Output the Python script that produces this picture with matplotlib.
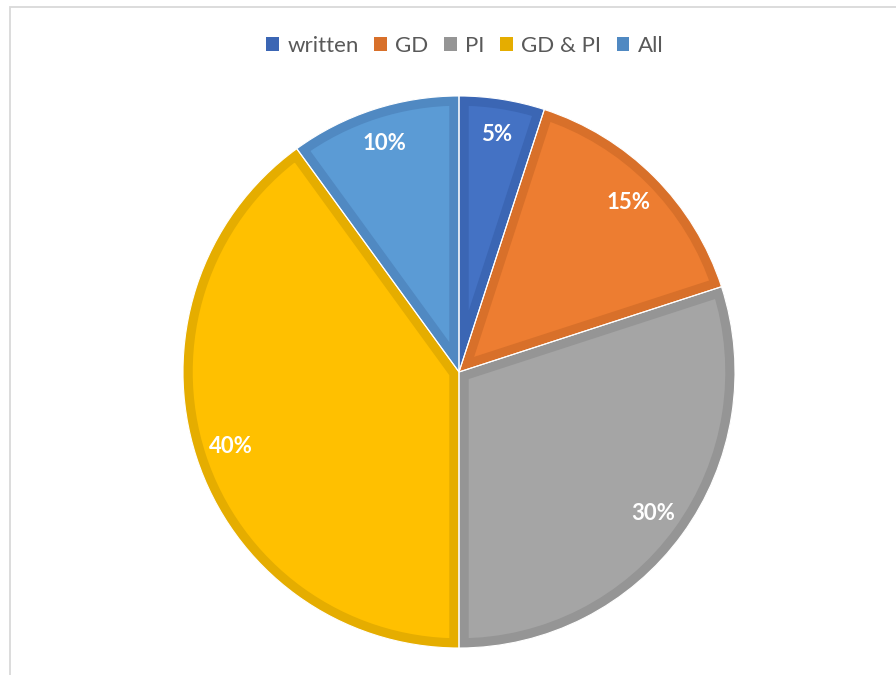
import matplotlib.pyplot as plt
from matplotlib.patches import Patch

plt.rcParams['font.family'] = ['Lato', 'DejaVu Sans']

labels = ['written', 'GD', 'PI', 'GD & PI', 'All']
shares = [5, 15, 30, 40, 10]
fills = ['#4472C4', '#ED7D31', '#A5A5A5', '#FFC000', '#5B9BD5']
rims = ['#3B66B4', '#D8702A', '#959595', '#E5AD00', '#5089C2']

fig = plt.figure(figsize=(8.96, 6.75), dpi=100)

# light frame around the chart area (runs off the right and bottom)
frame = plt.Rectangle((9.5 / 896, -0.05), 1.2, 1 - 6.5 / 675 + 0.05,
                      transform=fig.transFigure, fill=False,
                      edgecolor='#D9D9D9', linewidth=1.3)
fig.add_artist(frame)

ax = fig.add_axes([183 / 896, 27 / 675, 552 / 896, 552 / 675])
ax.axis('off')

wedges, _, pct = ax.pie(shares, colors=fills, startangle=90, counterclock=False,
                        radius=1, autopct=lambda p: f'{p:.0f}%', pctdistance=0.87,
                        textprops=dict(color='white', fontsize=16, fontweight='bold'))

# darker rim inside each slice: thick edge clipped to the slice itself
for w, rim in zip(wedges, rims):
    w.set_edgecolor(rim)
    w.set_linewidth(14)
    w.set_clip_on(True)
    w.set_clip_path(w)

# thin white seams between slices
ax.pie(shares, startangle=90, counterclock=False, radius=1,
       wedgeprops=dict(fill=False, edgecolor='white', linewidth=0.8))

for t in pct:
    t.set_zorder(5)

ax.set_xlim(-1, 1)
ax.set_ylim(-1, 1)
ax.set_aspect('equal')

handles = [Patch(facecolor=c, edgecolor='none') for c in rims]
fig.legend(handles, labels, loc='center', bbox_to_anchor=(0.519, 0.932), ncol=5,
           frameon=False, fontsize=16, labelcolor='#595959',
           handlelength=0.55, handleheight=0.55, handletextpad=0.4, columnspacing=0.7)

fig.savefig('out.png', dpi=100, facecolor='white')
